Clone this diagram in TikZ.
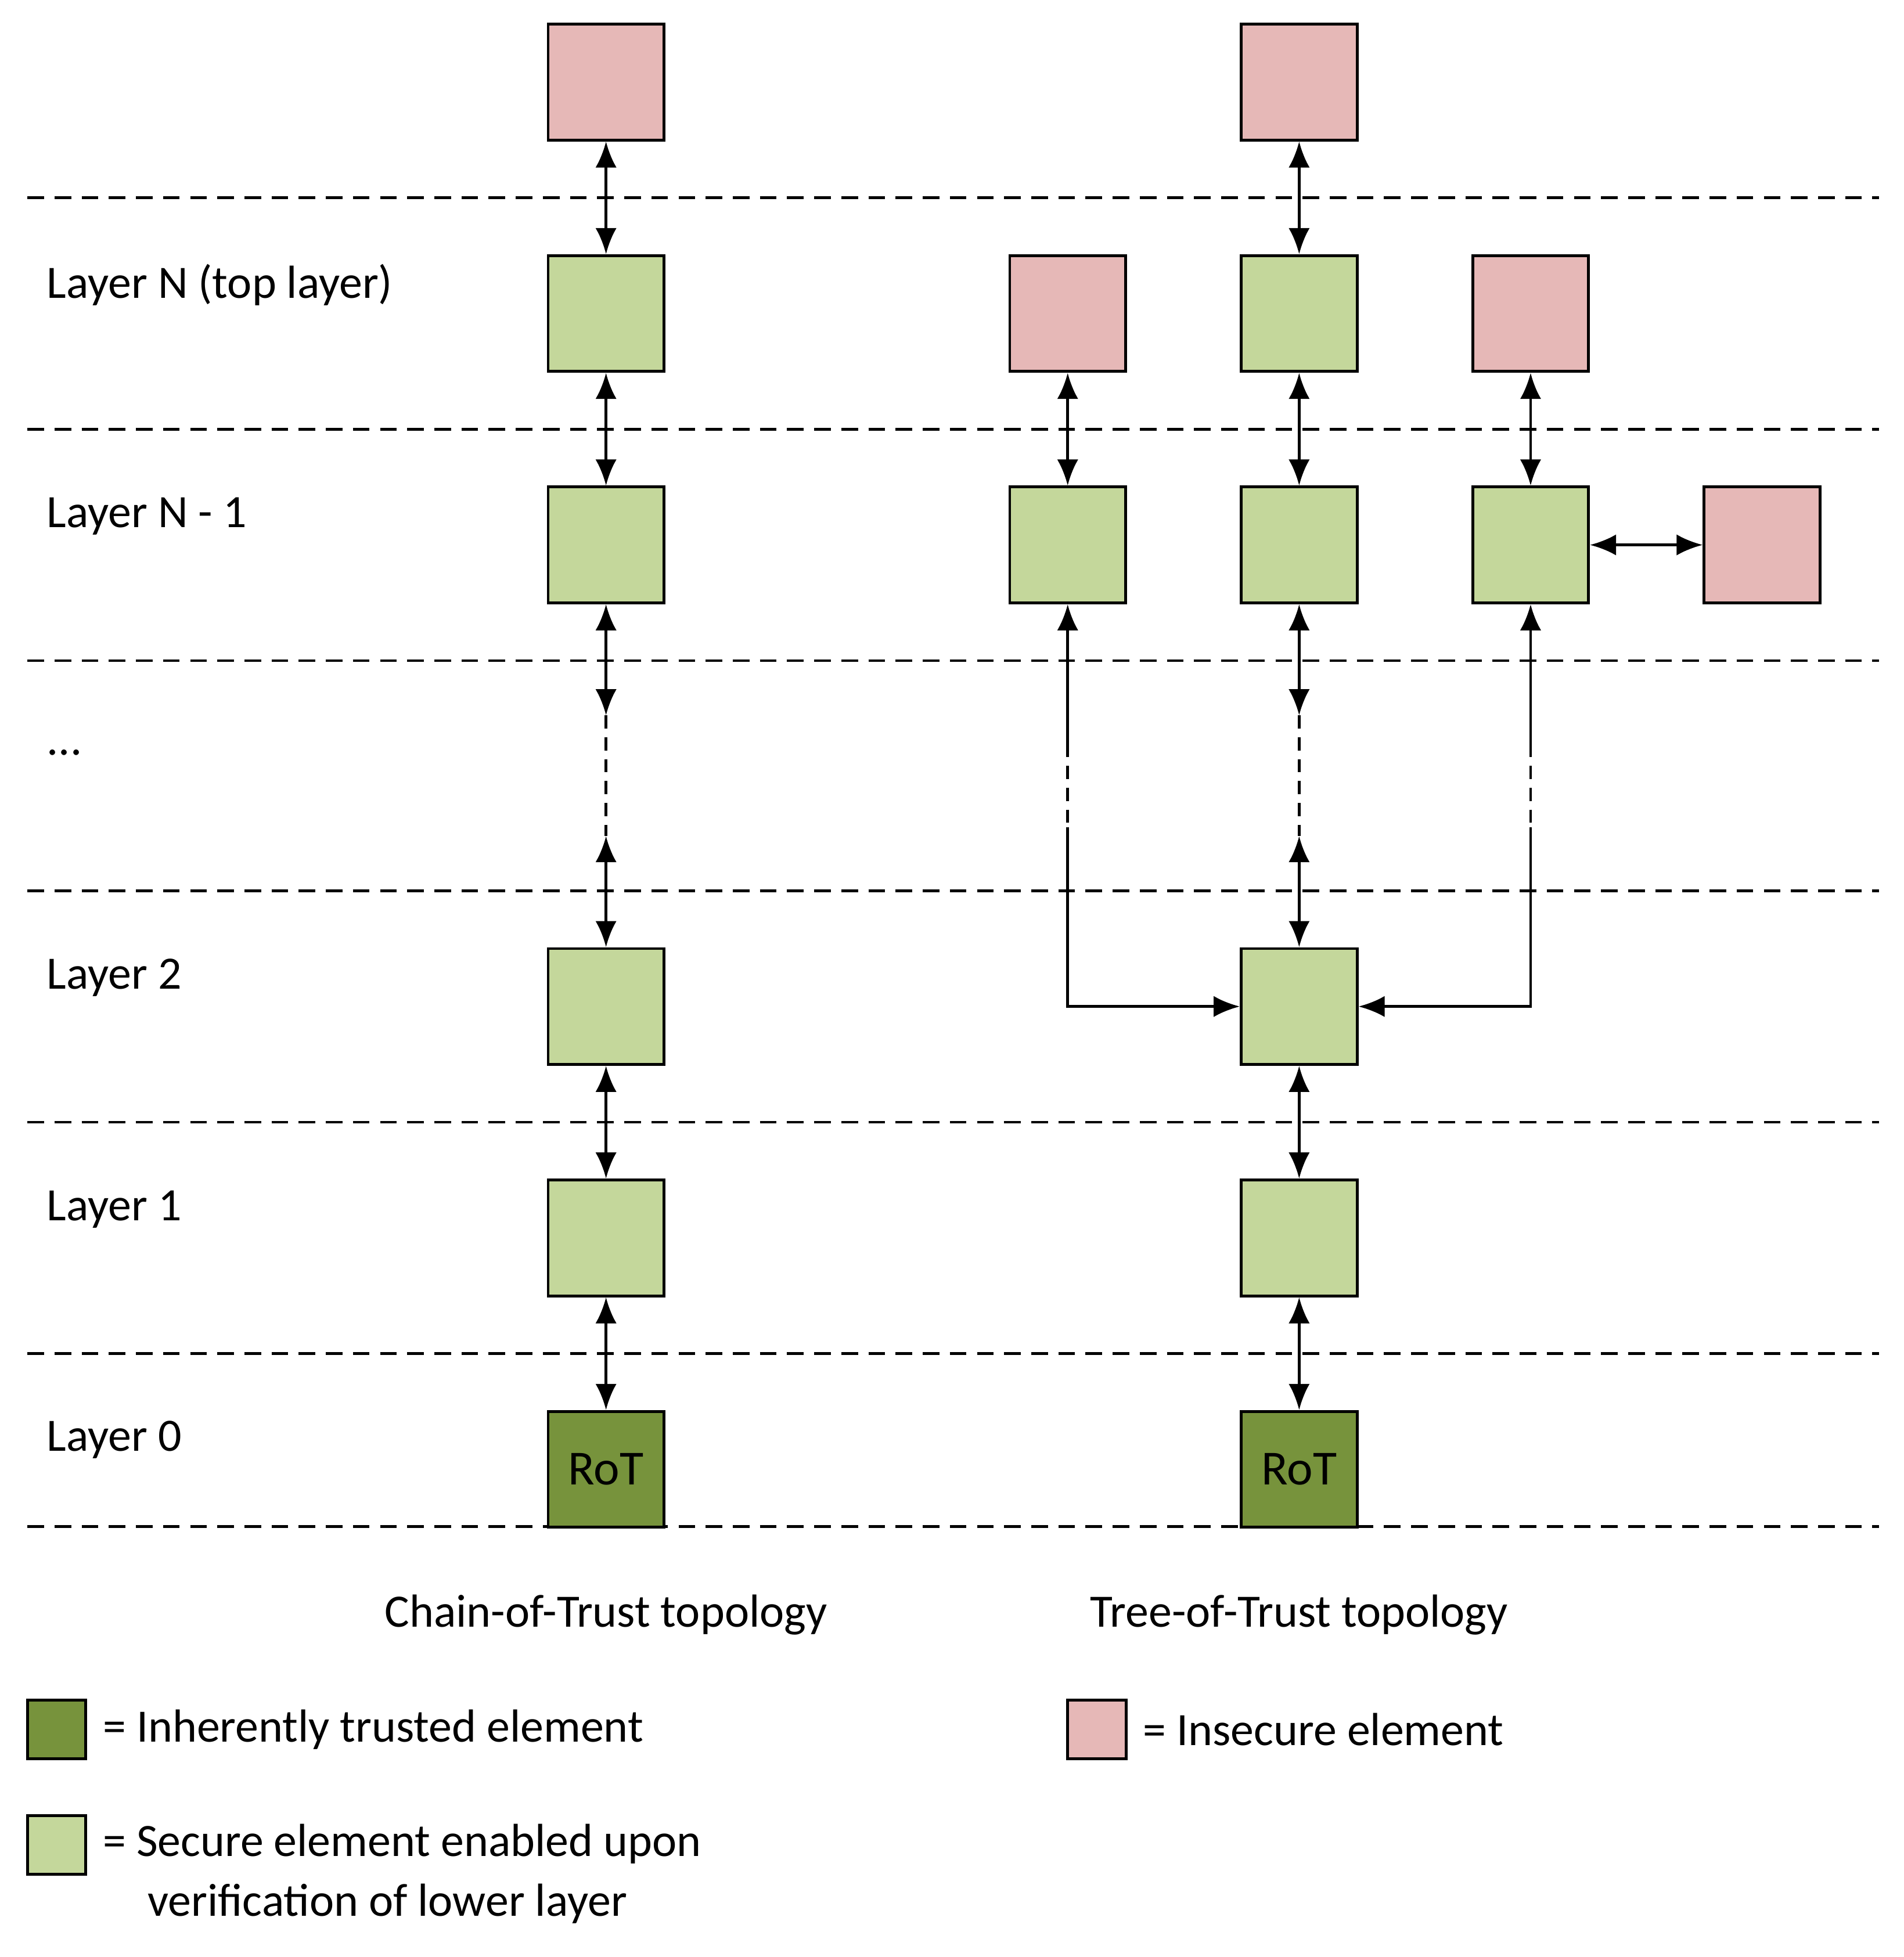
\documentclass[tikz,border=0pt]{standalone}
\usepackage{fontspec}
\setmainfont{Carlito}
\usetikzlibrary{arrows.meta}
\definecolor{pinkc}{HTML}{E6B8B7}
\definecolor{lgreen}{HTML}{C4D79B}
\definecolor{dgreen}{HTML}{77933C}
\tikzset{tip/.tip={Latex[length=0.21cm,width=0.17cm]}}
\begin{document}
\begin{tikzpicture}[x=0.01cm,y=-0.01cm,
  box/.style={draw,line width=0.65pt,minimum size=0.93cm,inner sep=0,font=\fontsize{11.2}{13}\selectfont},
  ins/.style={box,fill=pinkc},
  sec/.style={box,fill=lgreen},
  rot/.style={box,fill=dgreen},
  lbox/.style={draw,line width=0.65pt,minimum size=0.47cm,inner sep=0},
  sep/.style={line width=0.6pt,dash pattern=on 3.8pt off 2.4pt},
  cdash/.style={line width=0.6pt,dash pattern=on 3pt off 2pt},
  arr/.style={line width=0.65pt,tip-tip},
  arrh/.style={line width=0.65pt,-tip},
  lab/.style={anchor=west,font=\fontsize{10.6}{12}\selectfont,inner sep=0}]
\useasboundingbox (0,0) rectangle (1530,1573);
\foreach \y in {159,345,531,716,902,1088,1227} \draw[sep] (22,\y) -- (1510,\y);
\node[lab] (l1) at (37,229) {Layer N (top layer)};
\node[lab] (l2) at (37,415) {Layer N - 1};
\node[lab] (l3) at (37,605) {...};
\node[lab] (l4) at (37,786) {Layer 2};
\node[lab] (l5) at (37,972) {Layer 1};
\node[lab] (l6) at (37,1157) {Layer 0};
% chain
\node[ins] (c0) at (487,66) {};
\node[sec] (c1) at (487,252) {};
\node[sec] (c2) at (487,438) {};
\node[sec] (c3) at (487,809) {};
\node[sec] (c4) at (487,995) {};
\node[rot] (c5) at (487,1181) {RoT};
\draw[arr] (c0) -- (c1);
\draw[arr] (c1) -- (c2);
\coordinate (ca) at (487,575); \coordinate (cb) at (487,672);
\draw[arr] (c2) -- (ca);
\draw[cdash] (ca) -- (cb);
\draw[arr] (cb) -- (c3);
\draw[arr] (c3) -- (c4);
\draw[arr] (c4) -- (c5);
% tree
\node[ins] (t0) at (1044,66) {};
\node[ins] (tl1) at (858,252) {};
\node[sec] (t1) at (1044,252) {};
\node[ins] (tr1) at (1230,252) {};
\node[sec] (tl2) at (858,438) {};
\node[sec] (t2) at (1044,438) {};
\node[sec] (tr2) at (1230,438) {};
\node[ins] (tx2) at (1416,438) {};
\node[sec] (t3) at (1044,809) {};
\node[sec] (t4) at (1044,995) {};
\node[rot] (t5) at (1044,1181) {RoT};
\draw[arr] (t0) -- (t1);
\draw[arr] (tl1) -- (tl2);
\draw[arr] (t1) -- (t2);
\draw[arr] (tr1) -- (tr2);
\draw[arr] (tr2) -- (tx2);
\coordinate (ta) at (1044,575); \coordinate (tb) at (1044,672);
\draw[arr] (t2) -- (ta);
\draw[cdash] (ta) -- (tb);
\draw[arr] (tb) -- (t3);
\draw[arr] (t3) -- (t4);
\draw[arr] (t4) -- (t5);
\coordinate (la) at (858,598); \coordinate (lb) at (858,665); \coordinate (lc) at (858,809);
\draw[line width=0.65pt,tip-] (tl2) -- (la);
\draw[cdash] (la) -- (lb);
\draw[arrh] (lb) -- (lc) -- (t3);
\coordinate (ra) at (1230,598); \coordinate (rb) at (1230,665); \coordinate (rc) at (1230,809);
\draw[line width=0.65pt,tip-] (tr2) -- (ra);
\draw[cdash] (ra) -- (rb);
\draw[arrh] (rb) -- (rc) -- (t3);
% captions
\node[font=\fontsize{10.6}{12}\selectfont] (cap1) at (487,1298) {Chain-of-Trust topology};
\node[font=\fontsize{10.6}{12}\selectfont] (cap2) at (1044,1298) {Tree-of-Trust topology};
% legend
\node[lbox,fill=dgreen] (g1) at (45.5,1390) {};
\node[lbox,fill=lgreen] (g2) at (45.5,1483) {};
\node[lbox,fill=pinkc] (g3) at (881.5,1390) {};
\node[lab] (t1l) at (82,1390) {= Inherently trusted element};
\node[lab] (t3l) at (918,1390) {= Insecure element};
\node[lab] (t2l) at (82,1482) {= Secure element enabled upon};
\node[lab] (t2m) at (118,1530) {verification of lower layer};
\end{tikzpicture}
\end{document}
